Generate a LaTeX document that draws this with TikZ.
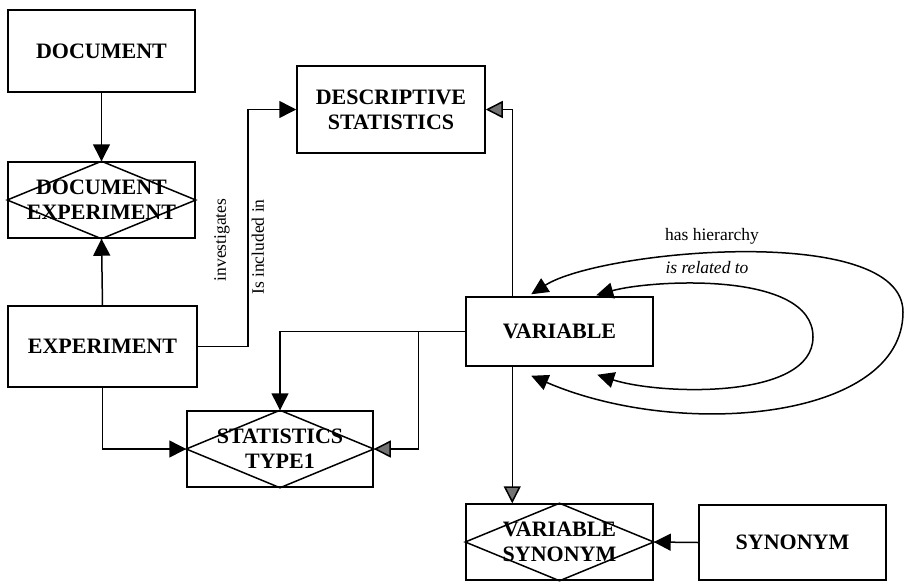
\documentclass[tikz,border=0pt]{standalone}
\usepackage{fontspec}
\setmainfont{Liberation Serif}
\usetikzlibrary{arrows.meta}

\begin{document}
\begin{tikzpicture}[x=1pt,y=-1pt,
  ent/.style={draw, line width=1.5pt, inner sep=0pt, align=center,
              font=\fontsize{22}{25}\selectfont\bfseries},
  lbl/.style={font=\fontsize{17.5}{19}\selectfont},
  conn/.style={line width=1.5pt, -{Triangle[length=17pt,width=17pt]}},
  gconn/.style={line width=1.5pt, -{Triangle[length=17pt,width=17pt,fill=black!55]}},
  selfloop/.style={line width=1.5pt,
     {Triangle[length=17pt,width=16pt]}-{Triangle[length=17pt,width=16pt]}},
  rel/.style={line width=1.5pt}
]
\useasboundingbox (0,0) rectangle (905,582);

% entities
\node[ent, minimum width=187pt, minimum height=82pt] (doc)    at (101.5,51)    {DOCUMENT};
\node[ent, minimum width=187pt, minimum height=76pt] (docexp) at (101.5,200)   {DOCUMENT\\EXPERIMENT};
\node[ent, minimum width=189pt, minimum height=81pt] (exp)    at (102.5,346.5) {EXPERIMENT};
\node[ent, minimum width=188pt, minimum height=87pt] (desc)   at (391,109.5)   {DESCRIPTIVE\\STATISTICS};
\node[ent, minimum width=187pt, minimum height=69pt] (var)    at (559.5,331.5) {VARIABLE};
\node[ent, minimum width=186pt, minimum height=76pt] (stat)   at (280,449)     {STATISTICS\\TYPE1};
\node[ent, minimum width=187pt, minimum height=76pt] (varsyn) at (559.5,542)   {VARIABLE\\SYNONYM};
\node[ent, minimum width=187pt, minimum height=75pt] (syn)    at (792.5,542.5) {SYNONYM};

% relationship diamonds inside the associative boxes
\foreach \n in {docexp,stat,varsyn}
  \draw[rel] (\n.north) -- (\n.east) -- (\n.south) -- (\n.west) -- cycle;

% connectors
\draw[conn] (doc.south) -- (docexp.north);
\draw[conn] (exp.north) -- (docexp.south);
\draw[conn] (exp.east) -- ++(50,0) |- (desc.west);
\draw[gconn] ([xshift=47pt]var.north west) |- (desc.east);
\draw[conn] (var.west) -| (stat.north);
\draw[gconn] ([xshift=-47pt]var.west) |- (stat.east);
\draw[conn] (exp.south) |- (stat.west);
\draw[gconn] ([xshift=47pt]var.south west) -- ([xshift=47pt]varsyn.north west);
\draw[conn] (syn.west) -- (varsyn.east);

% rotated labels
\node[lbl, rotate=90] (lab1) at (222,240) {investigates};
\node[lbl, rotate=90] (lab2) at (258,247) {Is included in};

% recursive relations on VARIABLE
\coordinate (oa) at ([xshift=66pt,yshift=2pt]var.north west);
\coordinate (ob) at ([xshift=66pt,yshift=-9pt]var.south west);
\coordinate (ia) at ([xshift=131pt,yshift=1pt]var.north west);
\coordinate (ib) at ([xshift=132pt,yshift=-8pt]var.south west);
\draw[selfloop] (oa) .. controls (600,250) and (903,222) .. (903,312)
                     .. controls (903,420) and (680,440) .. (ob);
\draw[selfloop] (ia) .. controls (650,280) and (813,270) .. (813,337)
                     .. controls (813,400) and (660,395) .. (ib);
\node[lbl] (lab3) at (712,236) {has hierarchy};
\node[lbl, font=\fontsize{17.5}{19}\selectfont\itshape] (lab4) at (707,268) {is related to};
\end{tikzpicture}
\end{document}
